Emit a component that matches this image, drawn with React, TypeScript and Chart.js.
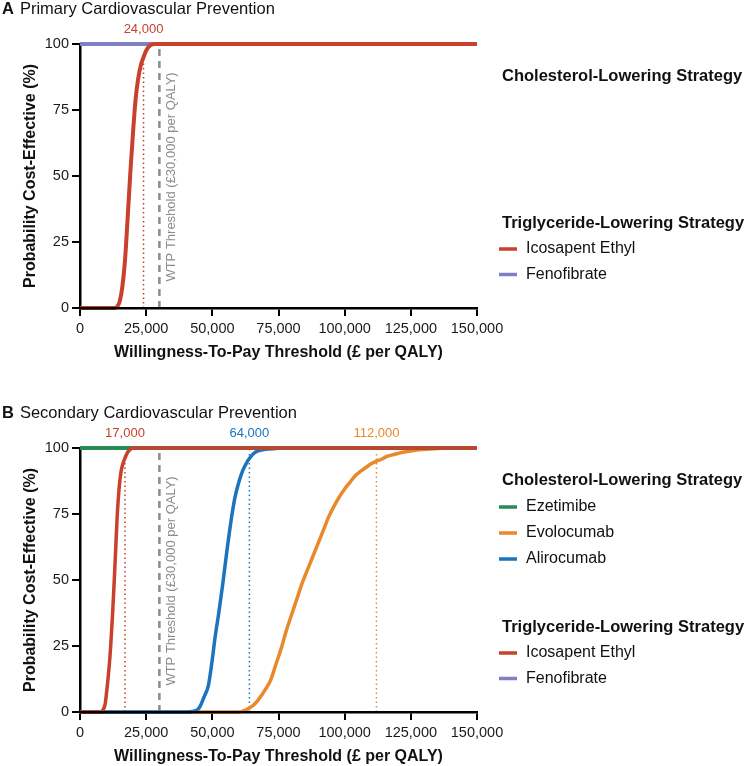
import React, { useEffect, useRef } from "react";
import { Chart, registerables } from "chart.js";
Chart.register(...registerables);

const FONT = '"Liberation Sans", Arial, Helvetica, sans-serif';

// ---------- shared axis ticks ----------
const xTickValues = [0, 25000, 50000, 75000, 100000, 125000, 150000];
const yTickValues = [0, 25, 50, 75, 100];
const xAxisTitle = "Willingness-To-Pay Threshold (£ per QALY)";
const yAxisTitle = "Probability Cost-Effective (%)";
const wtpValue = 30000;
const wtpText = "WTP Threshold (£30,000 per QALY)";
const cholHeading = "Cholesterol-Lowering Strategy";
const trigHeading = "Triglyceride-Lowering Strategy";

// ---------- colours ----------
const RED = "#C9402D";
const PURPLE = "#7F80C3";
const GREEN = "#2A8A55";
const ORANGE = "#E8892B";
const BLUE = "#1B74BC";
const GREY = "#8C8C8C";

// ---------- Panel A ----------
const aIcosapentX = [0, 5000, 10000, 13000, 14000, 15000, 16000, 17000, 18000, 19000, 20000, 21000, 22000, 23000, 24000, 25000, 26000, 27000, 28000, 150000];
const aIcosapentY = [0, 0, 0, 0, 0.5, 2.5, 8, 18, 34, 51, 66, 79, 87, 92, 95, 97.5, 99, 99.7, 100, 100];
const aFenofibrateX = [0, 150000];
const aFenofibrateY = [100, 100];
const aMarkerValues = [24000];
const aMarkerTops = [93];
const aMarkerLabels = ["24,000"];

// ---------- Panel B ----------
const bIcosapentX = [0, 7500, 8500, 9500, 10000, 11000, 11600, 12300, 12950, 13500, 14100, 14800, 15500, 16200, 17000, 18000, 19000, 20000, 150000];
const bIcosapentY = [0, 0, 0.5, 3, 7, 17, 25, 37, 50, 62, 75, 85, 91, 94, 96.2, 98.4, 99.5, 100, 100];
const bAlirocumabX = [0, 40000, 43000, 45000, 47000, 48500, 50000, 51000, 52500, 54000, 55500, 57000, 58500, 60000, 61500, 63000, 64000, 65500, 67000, 70000, 74000, 78000, 150000];
const bAlirocumabY = [0, 0, 0.3, 1.5, 6, 10, 20, 28, 38, 49, 61, 72, 81, 87, 91.5, 94.5, 96, 97.8, 98.8, 99.5, 99.8, 100, 100];
const bEvolocumabX = [0, 60000, 62000, 64000, 66000, 68000, 70000, 72000, 74000, 76000, 78000, 80000, 82000, 84000, 86000, 88000, 90000, 92000, 94000, 96000, 98000, 100000, 102000, 104000, 106000, 108000, 110000, 112000, 114000, 116000, 118000, 120000, 122000, 125000, 128000, 132000, 137000, 142000, 150000];
const bEvolocumabY = [0, 0, 0.5, 1.5, 3, 5.5, 8.5, 12, 18, 24, 31, 37, 43, 49, 54, 59, 64, 69, 74, 78, 81.5, 84.5, 87, 89.5, 91.2, 92.6, 94, 95, 95.8, 96.8, 97.4, 97.9, 98.4, 98.9, 99.3, 99.6, 99.9, 100, 100];
const bEzetimibeX = [0, 150000];
const bEzetimibeY = [100, 100];
const bFenofibrateX = [0, 150000];
const bFenofibrateY = [100, 100];
const bMarkerValues = [17000, 64000, 112000];
const bMarkerTops = [95, 99, 99];
const bMarkerLabels = ["17,000", "64,000", "112,000"];

const pts = (xs: number[], ys: number[]) => xs.map((x, i) => ({ x, y: ys[i] }));

type Item = { name: string; color: string; xs: number[]; ys: number[]; order: number; width: number };
type Marker = { value: number; top: number; text: string; color: string };
type PanelSpec = {
  letter: string;
  title: string;
  top: number;
  height: number;
  chol: Item[];
  trig: Item[];
  markers: Marker[];
};

const panelA: PanelSpec = {
  letter: "A",
  title: "Primary Cardiovascular Prevention",
  top: 44,
  height: 362,
  chol: [],
  trig: [
    { name: "Icosapent Ethyl", color: RED, xs: aIcosapentX, ys: aIcosapentY, order: 0, width: 4 },
    { name: "Fenofibrate", color: PURPLE, xs: aFenofibrateX, ys: aFenofibrateY, order: 4, width: 4 },
  ],
  markers: aMarkerValues.map((v, i) => ({ value: v, top: aMarkerTops[i], text: aMarkerLabels[i], color: RED })),
};

const bMarkerColors = [RED, BLUE, ORANGE];
const panelB: PanelSpec = {
  letter: "B",
  title: "Secondary Cardiovascular Prevention",
  top: 46,
  height: 364,
  chol: [
    { name: "Ezetimibe", color: GREEN, xs: bEzetimibeX, ys: bEzetimibeY, order: 1, width: 4 },
    { name: "Evolocumab", color: ORANGE, xs: bEvolocumabX, ys: bEvolocumabY, order: 3, width: 3.5 },
    { name: "Alirocumab", color: BLUE, xs: bAlirocumabX, ys: bAlirocumabY, order: 2, width: 3.5 },
  ],
  trig: [
    { name: "Icosapent Ethyl", color: RED, xs: bIcosapentX, ys: bIcosapentY, order: 0, width: 3.5 },
    { name: "Fenofibrate", color: PURPLE, xs: bFenofibrateX, ys: bFenofibrateY, order: 4, width: 4 },
  ],
  markers: bMarkerValues.map((v, i) => ({ value: v, top: bMarkerTops[i], text: bMarkerLabels[i], color: bMarkerColors[i] })),
};

const decorPlugin = {
  id: "decor",
  afterDraw(chart: any, _args: any, opts: any) {
    const spec: PanelSpec = opts.spec;
    if (!spec) return;
    const { ctx, chartArea } = chart;
    const xs = chart.scales.x;
    const ys = chart.scales.y;
    ctx.save();
    ctx.textBaseline = "middle";
    // panel title
    ctx.textAlign = "left";
    ctx.fillStyle = "#111";
    ctx.font = `bold 16.5px ${FONT}`;
    const ty = chartArea.top - 35;
    ctx.fillText(spec.letter, 2, ty);
    const lw = ctx.measureText(spec.letter).width;
    ctx.font = `16.5px ${FONT}`;
    ctx.fillText(spec.title, 2 + lw + 6, ty);
    // marker labels
    ctx.font = `13px ${FONT}`;
    ctx.textAlign = "center";
    for (const m of spec.markers) {
      ctx.fillStyle = m.color;
      ctx.fillText(m.text, xs.getPixelForValue(m.value), chartArea.top - 15);
    }
    // WTP label
    ctx.save();
    ctx.translate(xs.getPixelForValue(wtpValue) + 12.5, ys.getPixelForValue(10));
    ctx.rotate(-Math.PI / 2);
    ctx.textAlign = "left";
    ctx.fillStyle = GREY;
    ctx.font = `13px ${FONT}`;
    ctx.fillText(wtpText, 0, 0);
    ctx.restore();
    // legend
    const t = chartArea.top;
    const drawHeading = (txt: string, y: number) => {
      ctx.textAlign = "left";
      ctx.fillStyle = "#111";
      ctx.font = `bold 16.5px ${FONT}`;
      ctx.fillText(txt, 502, y);
    };
    const drawItem = (it: Item, y: number) => {
      ctx.fillStyle = it.color;
      ctx.fillRect(499, y - 1.75, 18, 3.5);
      ctx.fillStyle = "#111";
      ctx.font = `16px ${FONT}`;
      ctx.textAlign = "left";
      ctx.fillText(it.name, 526, y);
    };
    drawHeading(cholHeading, t + 32);
    spec.chol.forEach((it, i) => drawItem(it, t + 59 + i * 26));
    drawHeading(trigHeading, t + 179);
    spec.trig.forEach((it, i) => drawItem(it, t + 205 + i * 25.5));
    ctx.restore();
  },
};

function Panel({ spec, top }: { spec: PanelSpec; top: number }) {
  const ref = useRef<HTMLCanvasElement | null>(null);
  useEffect(() => {
    if (!ref.current) return;
    const series = [...spec.chol, ...spec.trig];
    const datasets: any[] = series.map((s) => ({
      label: s.name,
      data: pts(s.xs, s.ys),
      borderColor: s.color,
      backgroundColor: s.color,
      borderWidth: s.width,
      pointRadius: 0,
      cubicInterpolationMode: "monotone",
      order: s.order,
      borderCapStyle: "butt",
      borderJoinStyle: "round",
      clip: false,
    }));
    spec.markers.forEach((m) => {
      datasets.push({
        label: "marker " + m.text,
        data: [{ x: m.value, y: 0 }, { x: m.value, y: m.top }],
        borderColor: m.color,
        borderWidth: 1.5,
        borderDash: [1.5, 3],
        pointRadius: 0,
        order: 10,
      });
    });
    datasets.push({
      label: "WTP",
      data: [{ x: wtpValue, y: 0 }, { x: wtpValue, y: 100 }],
      borderColor: GREY,
      borderWidth: 2.5,
      borderDash: [7, 5],
      pointRadius: 0,
      order: 9,
    });
    const chart = new Chart(ref.current, {
      type: "line",
      data: { datasets },
      plugins: [decorPlugin as any],
      options: {
        responsive: false,
        animation: false,
        events: [],
        layout: { padding: { left: 0, right: 272, top: spec.top, bottom: 0 } },
        plugins: {
          legend: { display: false },
          tooltip: { enabled: false },
          title: { display: false },
          decor: { spec },
        } as any,
        scales: {
          x: {
            type: "linear",
            min: 0,
            max: 150000,
            afterBuildTicks: (s: any) => {
              s.ticks = xTickValues.map((v) => ({ value: v }));
            },
            afterFit: (s: any) => {
              s.height = 54;
            },
            ticks: {
              color: "#1a1a1a",
              font: { family: FONT, size: 14.5 },
              padding: 4,
              maxRotation: 0,
              autoSkip: false,
              callback: (v: any) => Number(v).toLocaleString("en-US"),
            },
            grid: { display: true, drawOnChartArea: false, drawTicks: true, tickLength: 8, color: "#000", lineWidth: 2 },
            border: { display: true, color: "#000", width: 2.5, z: 1 },
            title: {
              display: true,
              text: xAxisTitle,
              color: "#111",
              font: { family: FONT, size: 16, weight: "bold" },
              padding: { top: 0, bottom: 0 },
            },
          },
          y: {
            type: "linear",
            min: 0,
            max: 100,
            afterBuildTicks: (s: any) => {
              s.ticks = yTickValues.map((v) => ({ value: v }));
            },
            afterFit: (s: any) => {
              s.width = 80;
            },
            ticks: {
              color: "#1a1a1a",
              font: { family: FONT, size: 14.5 },
              padding: 3,
            },
            grid: { display: true, drawOnChartArea: false, drawTicks: true, tickLength: 8, color: "#000", lineWidth: 2 },
            border: { display: true, color: "#000", width: 2.5 },
            title: {
              display: true,
              text: yAxisTitle,
              color: "#111",
              font: { family: FONT, size: 16, weight: "bold" },
              padding: { top: 21, bottom: 0 },
            },
          },
        },
      },
    } as any);
    return () => chart.destroy();
  }, [spec]);
  return (
    <canvas
      ref={ref}
      width={749}
      height={spec.height}
      style={{ position: "absolute", left: 0, top, width: 749, height: spec.height, display: "block" }}
    />
  );
}

export default function App() {
  return (
    <div style={{ position: "fixed", left: 0, top: 0, width: 749, height: 766, overflow: "hidden", background: "#fff" }}>
      <Panel spec={panelA} top={0} />
      <Panel spec={panelB} top={402} />
    </div>
  );
}
